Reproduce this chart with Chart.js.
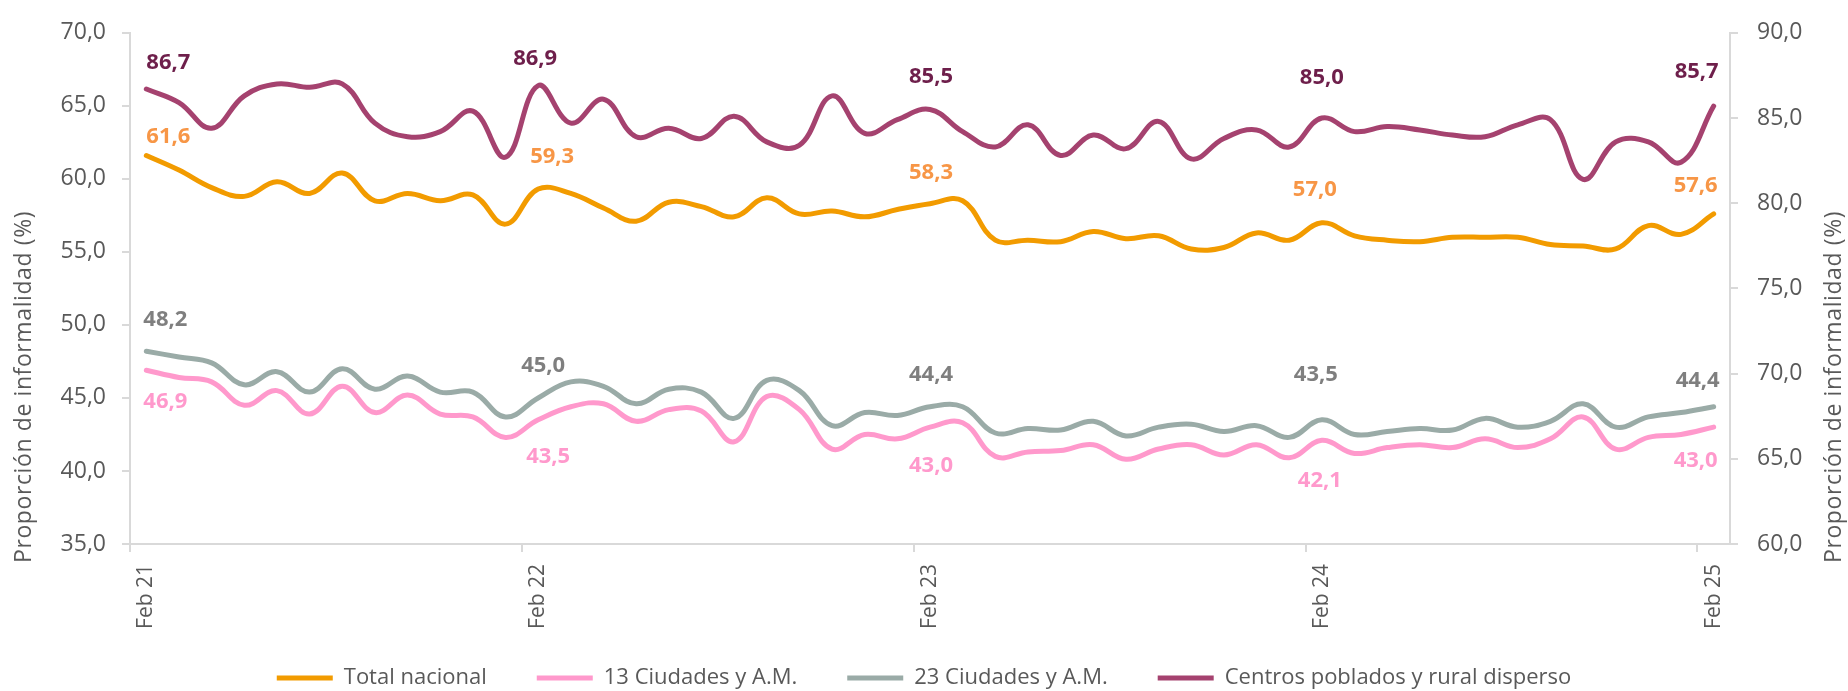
<!DOCTYPE html>
<html>
<head>
    <title>Informalidad</title>
    <meta charset="utf-8">
    <script src="https://cdn.jsdelivr.net/npm/chart.js"></script>
    <style>
        body { margin: 0; background: #fff; }
    </style>
</head>
<body>
    <canvas id="myChart" width="1848" height="691"></canvas>
    <script>
        const months = [
            'Feb 21', 'Mar 21', 'Abr 21', 'May 21', 'Jun 21', 'Jul 21', 'Ago 21', 'Sep 21', 'Oct 21', 'Nov 21', 'Dic 21', 'Ene 22',
            'Feb 22', 'Mar 22', 'Abr 22', 'May 22', 'Jun 22', 'Jul 22', 'Ago 22', 'Sep 22', 'Oct 22', 'Nov 22', 'Dic 22', 'Ene 23',
            'Feb 23', 'Mar 23', 'Abr 23', 'May 23', 'Jun 23', 'Jul 23', 'Ago 23', 'Sep 23', 'Oct 23', 'Nov 23', 'Dic 23', 'Ene 24',
            'Feb 24', 'Mar 24', 'Abr 24', 'May 24', 'Jun 24', 'Jul 24', 'Ago 24', 'Sep 24', 'Oct 24', 'Nov 24', 'Dic 24', 'Ene 25',
            'Feb 25'
        ];

        const totalNacional = [
            61.6, 60.6, 59.4, 58.8, 59.8, 59.0, 60.4, 58.5, 59.0, 58.5, 58.9, 56.9,
            59.3, 59.0, 58.0, 57.1, 58.4, 58.1, 57.4, 58.7, 57.6, 57.8, 57.4, 57.9,
            58.3, 58.5, 55.8, 55.8, 55.7, 56.4, 55.9, 56.1, 55.2, 55.3, 56.3, 55.8,
            57.0, 56.1, 55.8, 55.7, 56.0, 56.0, 56.0, 55.5, 55.4, 55.2, 56.8, 56.2,
            57.6
        ];
        const ciudades13 = [
            46.9, 46.4, 46.1, 44.5, 45.5, 43.9, 45.8, 44.0, 45.2, 43.9, 43.7, 42.3,
            43.5, 44.4, 44.6, 43.4, 44.2, 44.1, 42.0, 45.1, 44.2, 41.5, 42.5, 42.2,
            43.0, 43.3, 41.0, 41.3, 41.4, 41.8, 40.8, 41.5, 41.8, 41.1, 41.8, 40.9,
            42.1, 41.2, 41.6, 41.8, 41.6, 42.2, 41.6, 42.2, 43.7, 41.5, 42.3, 42.5,
            43.0
        ];
        const ciudades23 = [
            48.2, 47.8, 47.4, 45.9, 46.8, 45.4, 47.0, 45.6, 46.5, 45.4, 45.4, 43.7,
            45.0, 46.1, 45.8, 44.6, 45.6, 45.4, 43.6, 46.2, 45.5, 43.1, 44.0, 43.8,
            44.4, 44.4, 42.6, 42.9, 42.8, 43.4, 42.4, 43.0, 43.2, 42.7, 43.1, 42.3,
            43.5, 42.5, 42.7, 42.9, 42.8, 43.6, 43.0, 43.4, 44.6, 43.0, 43.7, 44.0,
            44.4
        ];
        const centrosPoblados = [
            86.7, 85.9, 84.4, 86.3, 87.0, 86.8, 87.0, 84.7, 83.9, 84.2, 85.4, 82.7,
            86.9, 84.7, 86.1, 83.9, 84.4, 83.8, 85.1, 83.6, 83.4, 86.3, 84.1, 84.9,
            85.5, 84.2, 83.3, 84.6, 82.8, 84.0, 83.2, 84.8, 82.6, 83.8, 84.3, 83.3,
            85.0, 84.2, 84.5, 84.3, 84.0, 83.9, 84.6, 84.9, 81.4, 83.6, 83.6, 82.4,
            85.7
        ];

        const seriesNames = ['Total nacional', '13 Ciudades y A.M.', '23 Ciudades y A.M.', 'Centros poblados y rural disperso'];
        const axisTitle = 'Proporción de informalidad (%)';
        const labelIdx = [0, 12, 24, 36, 48];

        function fmt(v) {
            return v.toFixed(1).replace('.', ',');
        }

        const axisColor = '#D9D9D9';
        const textColor = '#595959';

        // etiquetas de valor en los meses de febrero
        const valueLabels = {
            id: 'valueLabels',
            afterDatasetsDraw(chart, args, opts) {
                const ctx = chart.ctx;
                chart.data.datasets.forEach((ds, di) => {
                    const meta = chart.getDatasetMeta(di);
                    const st = opts.styles[di];
                    ctx.save();
                    ctx.font = 'bold 22px "Open Sans"';
                    ctx.fillStyle = st.color;
                    ctx.textAlign = 'center';
                    ctx.textBaseline = 'middle';
                    labelIdx.forEach((i, k) => {
                        const p = meta.data[i];
                        ctx.fillText(fmt(ds.data[i]), p.x + st.dx[k], p.y + st.dy[k]);
                    });
                    ctx.restore();
                });
            }
        };

        // titulos de ambos ejes, leidos de abajo hacia arriba
        const axisTitles = {
            id: 'axisTitles',
            afterDraw(chart, args, opts) {
                const ctx = chart.ctx;
                ctx.save();
                ctx.font = '23px "Open Sans"';
                ctx.fillStyle = textColor;
                if ('letterSpacing' in ctx) ctx.letterSpacing = '0.6px';
                ctx.textAlign = 'left';
                ctx.textBaseline = 'middle';
                opts.xs.forEach((x) => {
                    ctx.save();
                    ctx.translate(x, opts.start);
                    ctx.rotate(-Math.PI / 2);
                    ctx.fillText(opts.text, 0, 0);
                    ctx.restore();
                });
                ctx.restore();
            }
        };

        Chart.defaults.font.family = '"Open Sans", sans-serif';
        Chart.defaults.color = textColor;

        function line(label, data, color, axis) {
            return {
                label: label,
                data: data,
                yAxisID: axis,
                borderColor: color,
                backgroundColor: color,
                borderWidth: 5,
                borderCapStyle: 'round',
                pointRadius: 0,
                tension: 0.4,
                fill: false
            };
        }

        const ctx = document.getElementById('myChart');
        new Chart(ctx, {
            type: 'line',
            data: {
                labels: months,
                datasets: [
                    line(seriesNames[0], totalNacional, '#F29B00', 'y'),
                    line(seriesNames[1], ciudades13, '#FF99CC', 'y'),
                    line(seriesNames[2], ciudades23, '#9AABA7', 'y'),
                    line(seriesNames[3], centrosPoblados, '#A5426F', 'y1')
                ]
            },
            options: {
                responsive: false,
                animation: false,
                devicePixelRatio: 1,
                layout: { padding: { top: 16, right: 0, left: 0, bottom: -8 } },
                plugins: {
                    tooltip: { enabled: false },
                    legend: {
                        position: 'bottom',
                        labels: {
                            usePointStyle: true,
                            pointStyle: 'line',
                            pointStyleWidth: 56,
                            padding: 50,
                            color: textColor,
                            font: { size: 22 }
                        }
                    },
                    axisTitles: { text: axisTitle, xs: [24, 1834], start: 563 },
                    valueLabels: {
                        styles: [
                            { color: '#F79646', dx: [22, 14, 1, -7, -18], dy: [-19, -32, -31, -33, -28] },
                            { color: '#FF99CC', dx: [19, 10, 1, -2, -18], dy: [32, 37, 39, 40, 34] },
                            { color: '#7F7F7F', dx: [19, 5, 1, -6, -16], dy: [-31, -32, -32, -45, -26] },
                            { color: '#6E1F4B', dx: [22, -3, 1, 0, -17], dy: [-26, -27, -33, -40, -34] }
                        ]
                    }
                },
                scales: {
                    x: {
                        offset: true,
                        afterFit: (s) => {
                            s.height = 73;
                            // las etiquetas rotadas pasan por debajo de la caja del eje
                            s._computeLabelArea = () => undefined;
                        },
                        border: { color: axisColor, width: 2 },
                        grid: {
                            offset: true,
                            drawOnChartArea: false,
                            tickLength: 8,
                            lineWidth: 2,
                            color: (c) => (c.index % 12 === 0 ? axisColor : 'rgba(0,0,0,0)')
                        },
                        ticks: {
                            autoSkip: false,
                            minRotation: 90,
                            maxRotation: 90,
                            padding: 12,
                            color: textColor,
                            font: { size: 21 },
                            callback: (v, i) => (i % 12 === 0 ? months[i] : '')
                        }
                    },
                    y: {
                        position: 'left',
                        min: 35,
                        max: 70,
                        afterFit: (s) => { s.width = 130; },
                        border: { color: axisColor, width: 2 },
                        grid: { drawOnChartArea: false, tickLength: 8, color: axisColor, lineWidth: 2 },
                        ticks: {
                            stepSize: 5,
                            padding: 16,
                            color: textColor,
                            font: { size: 23 },
                            callback: (v) => fmt(v)
                        }
                    },
                    y1: {
                        position: 'right',
                        min: 60,
                        max: 90,
                        afterFit: (s) => { s.width = 118; },
                        border: { color: axisColor, width: 2 },
                        grid: { drawOnChartArea: false, tickLength: 8, color: axisColor, lineWidth: 2 },
                        ticks: {
                            stepSize: 5,
                            padding: 19,
                            color: textColor,
                            font: { size: 23 },
                            callback: (v) => fmt(v)
                        }
                    }
                }
            },
            plugins: [valueLabels, axisTitles]
        });
    </script>
</body>
</html>
